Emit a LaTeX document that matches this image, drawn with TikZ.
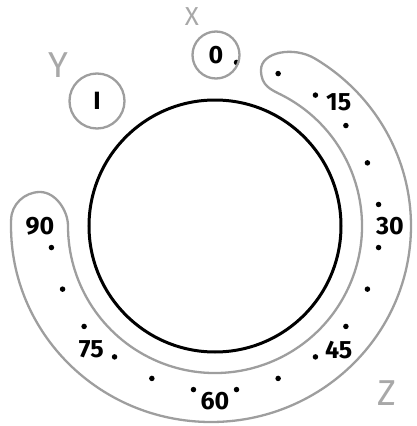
\documentclass[tikz,border=0pt]{standalone}
\usepackage{fontspec}
\usepackage{tikz}
\newfontfamily\numfont{Fira Sans}
\newfontfamily\axfont{Fira Sans}
\definecolor{rimgray}{gray}{0.62}
\definecolor{axgray}{gray}{0.66}
\tikzstyle{rim}=[draw=rimgray, line width=2.3pt]
\tikzstyle{ring}=[circle, rim, inner sep=0pt]
\tikzstyle{pip}=[circle, fill=black, inner sep=0pt, minimum size=5.5pt]
\tikzstyle{num}=[font=\numfont\bfseries\fontsize{25}{25}\selectfont, inner sep=0pt]
\tikzstyle{axlbl}=[text=axgray, font=\axfont\fontsize{36}{36}\selectfont, inner sep=0pt]

\begin{document}
\begin{tikzpicture}[x=1pt, y=1pt]
    \useasboundingbox (-215,-200) rectangle (202,226);
    % scale band
    \draw[rim] (63:147) arc[start angle=63, end angle=-180, radius=147]
        .. controls (-147,15.5) and (-159.5,34) .. (-175,34)
        .. controls (-190.5,34) and (-203.9,21.5) .. (-203.9,5.8)
        arc[start angle=178.3, end angle=418.7, x radius=200, y radius=196]
        .. controls (78.5,180.2) and (46,174) .. (46,156)
        .. controls (46,140) and (56,136.4) .. (63:147) -- cycle;
    \node[circle, draw, line width=3pt, minimum size=252pt] (dial) at (0,0) {};
    \foreach \a [count=\i] in {7.5,22.5,...,262.5}
        \node[pip] (p\i) at ({90-\a}:165) {};
    \foreach \v in {15,30,45,60,75,90}
        \node[num] (n\v) at ({90-3*\v}:175) {\v};
    \node[ring, num, minimum size=47pt] (n0) at (1,171) {0};
    \node[ring, num, minimum size=55pt] (i) at (-118,125) {I};
    \node[axlbl, font=\axfont\fontsize{26}{26}\selectfont] (x) at (-23,209) {X};
    \node[axlbl] (y) at (-157,161) {Y};
    \node[axlbl] (z) at (172,-167) {Z};
\end{tikzpicture}
\end{document}
